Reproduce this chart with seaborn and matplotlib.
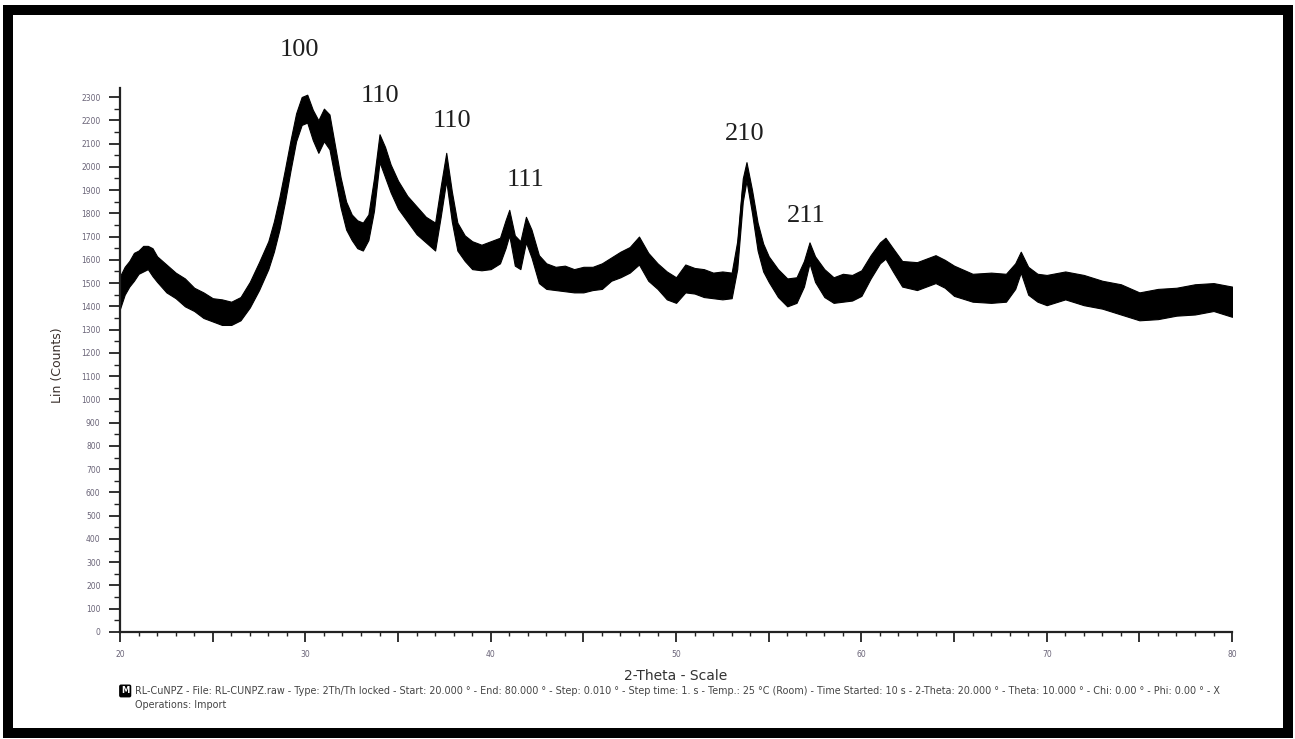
import numpy as np
import pandas as pd
import matplotlib
matplotlib.use("Agg")
import matplotlib.pyplot as plt
import seaborn as sns
from matplotlib.patches import Rectangle
from matplotlib.ticker import MultipleLocator, FuncFormatter

# 2-theta positions (degrees)
two_theta = [
    20.0, 20.25, 20.5, 20.75, 21.0, 21.25, 21.5, 21.75, 22.0, 22.5,
    23.0, 23.5, 24.0, 24.5, 25.0, 25.5, 26.0, 26.5, 27.0, 27.5,
    28.0, 28.3, 28.6, 28.9, 29.2, 29.5, 29.8, 30.1, 30.4, 30.7,
    31.0, 31.3, 31.6, 31.9, 32.2, 32.5, 32.8, 33.1, 33.4, 33.7,
    34.0, 34.3, 34.6, 35.0, 35.5, 36.0, 36.5, 37.0, 37.3, 37.6,
    37.9, 38.2, 38.6, 39.0, 39.5, 40.0, 40.5, 40.8, 41.0, 41.3,
    41.6, 41.9, 42.2, 42.6, 43.0, 43.5, 44.0, 44.5, 45.0, 45.5,
    46.0, 46.5, 47.0, 47.5, 48.0, 48.5, 49.0, 49.5, 50.0, 50.5,
    51.0, 51.5, 52.0, 52.5, 53.0, 53.3, 53.6, 53.8, 54.1, 54.4,
    54.7, 55.0, 55.5, 56.0, 56.5, 56.9, 57.2, 57.5, 58.0, 58.5,
    59.0, 59.5, 60.0, 60.5, 61.0, 61.3, 61.7, 62.2, 63.0, 64.0,
    64.5, 65.0, 66.0, 67.0, 67.8, 68.3, 68.6, 69.0, 69.5, 70.0,
    71.0, 72.0, 73.0, 74.0, 75.0, 76.0, 77.0, 78.0, 79.0, 80.0,
]

# mid-band intensity
counts = [
    1460, 1510, 1540, 1570, 1590, 1605, 1610, 1590, 1560, 1520,
    1490, 1460, 1430, 1405, 1385, 1375, 1370, 1390, 1450, 1530,
    1620, 1700, 1800, 1920, 2050, 2170, 2240, 2250, 2180, 2130,
    2180, 2150, 2020, 1890, 1790, 1740, 1710, 1700, 1740, 1880,
    2080, 2020, 1950, 1880, 1820, 1770, 1730, 1700, 1850, 2000,
    1830, 1700, 1650, 1620, 1610, 1620, 1640, 1710, 1760, 1640,
    1620, 1730, 1670, 1560, 1530, 1520, 1520, 1510, 1515, 1520,
    1530, 1560, 1580, 1600, 1640, 1570, 1530, 1490, 1470, 1520,
    1510, 1500, 1490, 1490, 1490, 1620, 1900, 1980, 1850, 1700,
    1610, 1560, 1500, 1460, 1470, 1540, 1630, 1560, 1500, 1470,
    1480, 1480, 1500, 1570, 1630, 1650, 1600, 1540, 1530, 1560,
    1540, 1510, 1480, 1480, 1480, 1530, 1590, 1510, 1480, 1470,
    1490, 1470, 1450, 1430, 1400, 1410, 1420, 1430, 1440, 1420,
]

# half-width of the noise band around the trace
noise = [
    70, 60, 55, 60, 50, 55, 50, 60, 55, 60,
    55, 60, 50, 55, 50, 55, 50, 50, 55, 60,
    60, 65, 70, 70, 65, 60, 60, 60, 65, 70,
    70, 75, 70, 65, 60, 55, 60, 60, 55, 70,
    60, 65, 60, 60, 55, 60, 55, 60, 65, 60,
    65, 60, 55, 60, 55, 60, 55, 60, 55, 65,
    60, 55, 60, 60, 55, 50, 55, 50, 55, 50,
    55, 50, 55, 55, 60, 60, 55, 60, 55, 60,
    55, 60, 55, 60, 55, 60, 50, 40, 50, 60,
    60, 55, 60, 60, 55, 55, 45, 55, 60, 55,
    60, 55, 55, 50, 45, 45, 50, 55, 60, 60,
    60, 65, 60, 65, 60, 55, 45, 60, 60, 65,
    60, 65, 60, 65, 60, 65, 60, 65, 60, 65,
]

peak_labels = ["100", "110", "110", "111", "210", "211"]
peak_x = [29.7, 34.0, 37.9, 41.9, 53.7, 57.0]
peak_y = [2500, 2305, 2195, 1945, 2140, 1790]

footer = ("RL-CuNPZ - File: RL-CUNPZ.raw - Type: 2Th/Th locked - Start: 20.000 \u00b0 - "
          "End: 80.000 \u00b0 - Step: 0.010 \u00b0 - Step time: 1. s - Temp.: 25 \u00b0C (Room) - "
          "Time Started: 10 s - 2-Theta: 20.000 \u00b0 - Theta: 10.000 \u00b0 - Chi: 0.00 \u00b0 - "
          "Phi: 0.00 \u00b0 - X")

# long table: upper and lower edge of the noisy band for each angle
df = pd.DataFrame({
    "two_theta": two_theta * 2,
    "counts": [c + n for c, n in zip(counts, noise)] + [c - n for c, n in zip(counts, noise)],
})

sns.set_style("white")
plt.rcParams["font.family"] = ["DejaVu Sans"]

fig = plt.figure(figsize=(12.95, 7.39), dpi=100)
ax = fig.add_axes([0.0927, 0.1448, 0.8587, 0.7362])

sns.lineplot(data=df, x="two_theta", y="counts", estimator="mean",
             errorbar=("pi", 100), color="black", linewidth=1.2, ax=ax,
             err_kws={"alpha": 1.0, "linewidth": 0.8, "edgecolor": "black"})

ax.set_xlim(20, 80)
ax.set_ylim(0, 2339)

for side in ["top", "right"]:
    ax.spines[side].set_visible(False)
for side in ["left", "bottom"]:
    ax.spines[side].set_color("#222222")
    ax.spines[side].set_linewidth(1.6)

ax.yaxis.set_major_locator(MultipleLocator(100))
ax.yaxis.set_minor_locator(MultipleLocator(50))
ax.xaxis.set_major_locator(MultipleLocator(5))
ax.xaxis.set_minor_locator(MultipleLocator(1))
ax.xaxis.set_major_formatter(FuncFormatter(lambda v, p: f"{int(v)}" if v % 10 == 0 else ""))

ax.tick_params(axis="y", which="major", direction="out", length=8, width=1.3,
               color="#222222", labelsize=5.5, labelcolor="#6a6478", pad=6, left=True)
ax.tick_params(axis="y", which="minor", direction="out", length=4, width=1.0,
               color="#222222", left=True)
ax.tick_params(axis="x", which="major", direction="out", length=7, width=1.3,
               color="#222222", labelsize=5.5, labelcolor="#6a6478", pad=6, bottom=True)
ax.tick_params(axis="x", which="minor", direction="out", length=3, width=1.0,
               color="#222222", bottom=True)

ax.set_ylabel("Lin (Counts)", fontsize=9, color="#3a302c")
ax.yaxis.set_label_coords(-0.05, 0.49)
ax.set_xlabel("2-Theta - Scale", fontsize=10, color="#333333")
ax.xaxis.set_label_coords(0.5, -0.068)

for lab, xx, yy in zip(peak_labels, peak_x, peak_y):
    ax.text(xx, yy, lab, ha="center", va="center", fontsize=19,
            family="Liberation Serif", color="#1e1e1e", clip_on=False)

fig.text(0.0935, 0.065, "M", fontsize=6, color="white", fontweight="bold", va="center",
         bbox=dict(boxstyle="round,pad=0.15", fc="black", ec="black"))
fig.text(0.104, 0.065, footer, fontsize=6.9, color="#444444", va="center")
fig.text(0.104, 0.046, "Operations: Import", fontsize=6.9, color="#444444", va="center")

fig.patches.append(Rectangle((0.0062, 0.008), 0.9884, 0.979, transform=fig.transFigure,
                             fill=False, edgecolor="black", linewidth=7.2))

fig.savefig("out.png", dpi=100, facecolor="white")
